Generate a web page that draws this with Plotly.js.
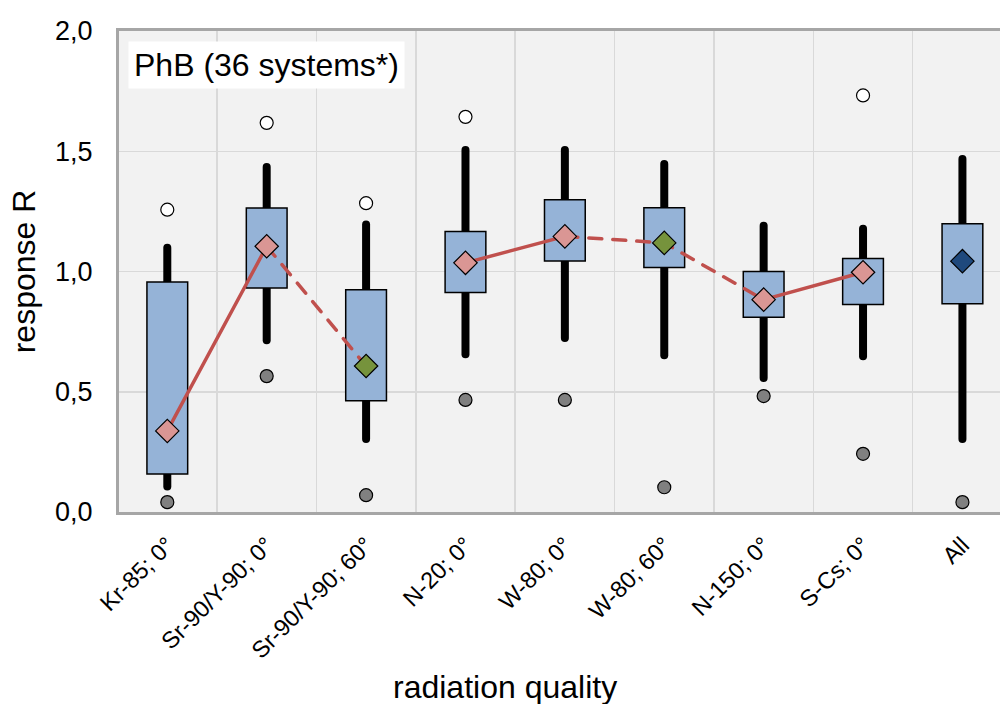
<!DOCTYPE html>
<html><head><meta charset="utf-8">
<script src="https://cdn.plot.ly/plotly-3.0.1.min.js"></script>
<style>html,body{margin:0;padding:0;background:#fff}</style>
</head><body><div id="chart" style="width:1000px;height:704px"></div>
<script>
// ---- data ----
const categories = ['Kr-85; 0°','Sr-90/Y-90; 0°','Sr-90/Y-90; 60°','N-20; 0°','W-80; 0°','W-80; 60°','N-150; 0°','S-Cs; 0°','All'];
const q1          = [0.158, 0.931, 0.463, 0.913, 1.044, 1.017, 0.810, 0.863, 0.866];
const q3          = [0.956, 1.264, 0.924, 1.166, 1.298, 1.265, 1.000, 1.054, 1.199];
const whiskerLow  = [0.106, 0.714, 0.304, 0.656, 0.723, 0.652, 0.557, 0.648, 0.304];
const whiskerHigh = [1.099, 1.435, 1.195, 1.505, 1.505, 1.447, 1.190, 1.178, 1.468];
const means       = [0.337, 1.105, 0.607, 1.036, 1.146, 1.119, 0.883, 0.997, 1.043];
const outlierHigh = [1.257, 1.618, 1.284, 1.643, null, null, null, 1.732, null];
const outlierLow  = [0.041, 0.565, 0.070, 0.466, 0.466, 0.103, 0.482, 0.242, 0.041];
const meanColors  = ['#da9694','#da9694','#76933c','#da9694','#da9694','#76933c','#da9694','#da9694','#1f497d'];
const solidRuns   = [[0,1],[3,4],[6,7]];   // 0° pairs joined by solid line
const dashedRuns  = [[1,2],[4,5,6]];       // joins to 60° by dashed line
const yTickVals   = [0, 0.5, 1.0, 1.5, 2.0];

function runsXY(runs){
  const x=[], y=[];
  runs.forEach(r=>{ r.forEach(i=>{x.push(categories[i]); y.push(means[i]);}); x.push(null); y.push(null); });
  return {x,y};
}
const solid = runsXY(solidRuns), dashed = runsXY(dashedRuns);

const traces = [
  { type:'scatter', mode:'lines', xaxis:'x', yaxis:'y',
    x: categories.flatMap(c=>[c,c,null]),
    y: categories.flatMap((c,i)=>[whiskerLow[i], whiskerHigh[i], null]),
    line:{color:'#000', width:8}, hoverinfo:'skip' },
  { type:'bar', xaxis:'x2', yaxis:'y2', x: categories, base: q1,
    y: q3.map((v,i)=>v-q1[i]), width:0.41,
    marker:{color:'#95b3d7', line:{color:'#000', width:1.5}} },
  { type:'scatter', mode:'lines', xaxis:'x2', yaxis:'y2', x: solid.x, y: solid.y,
    line:{color:'#c0504d', width:3.5}, connectgaps:false },
  { type:'scatter', mode:'lines', xaxis:'x2', yaxis:'y2', x: dashed.x, y: dashed.y,
    line:{color:'#c0504d', width:3.5, dash:'13px,11px'}, connectgaps:false },
  { type:'scatter', mode:'markers', xaxis:'x2', yaxis:'y2', x: categories, y: means,
    marker:{symbol:'diamond', size:18, color:meanColors, line:{color:'#000', width:1.2}} },
  { type:'scatter', mode:'markers', xaxis:'x2', yaxis:'y2', x: categories, y: outlierHigh,
    marker:{symbol:'circle', size:13, color:'#ffffff', line:{color:'#000', width:1.2}} },
  { type:'scatter', mode:'markers', xaxis:'x2', yaxis:'y2', x: categories, y: outlierLow,
    marker:{symbol:'circle', size:13, color:'#808080', line:{color:'#000', width:1.2}} }
];

const xRange = [-0.486, 8.378];
const font = {family:'"Liberation Sans", Arial, sans-serif', color:'#000'};
const layout = {
  width:1000, height:704,
  margin:{l:119, r:0, t:31, b:192},
  paper_bgcolor:'#ffffff', plot_bgcolor:'#f2f2f2',
  showlegend:false, separators:',.', font: font,
  xaxis:{ type:'category', categoryorder:'array', categoryarray:categories, range:xRange,
    tickson:'boundaries', showgrid:true, gridcolor:'#d9d9d9', gridwidth:1.5,
    showline:true, mirror:true, linecolor:'#a6a6a6', linewidth:3,
    ticks:'', tickangle:-45, tickfont:{size:23.5}, ticklabelstandoff:7, fixedrange:true },
  yaxis:{ range:[0,2], tickvals:yTickVals, tickformat:'.1f',
    showgrid:true, gridcolor:'#d9d9d9', gridwidth:1.5, zeroline:false,
    showline:true, mirror:false, linecolor:'#a6a6a6', linewidth:3,
    ticks:'', tickfont:{size:27}, ticklabelstandoff:18,
    title:{text:'response R', font:{size:32}, standoff:10}, fixedrange:true },
  xaxis2:{ type:'category', categoryorder:'array', categoryarray:categories, range:xRange,
    overlaying:'x', visible:false, fixedrange:true },
  yaxis2:{ range:[0,2], overlaying:'y', visible:false, fixedrange:true },
  annotations:[
    { text:'PhB (36 systems*)', xref:'paper', yref:'paper', x:0.0102, y:0.98,
      xanchor:'left', yanchor:'top', showarrow:false, bgcolor:'#ffffff', borderpad:5,
      font:{size:32} },
    { text:'radiation quality', xref:'paper', yref:'paper', x:0.438, y:-0.364,
      xanchor:'center', yanchor:'middle', showarrow:false, font:{size:32} }
  ]
};

Plotly.newPlot('chart', traces, layout, {staticPlot:true, displayModeBar:false}).then(gd=>{
  gd.querySelectorAll('path.js-line').forEach(p=>{ p.style.strokeLinecap='round'; });
});
</script></body></html>
